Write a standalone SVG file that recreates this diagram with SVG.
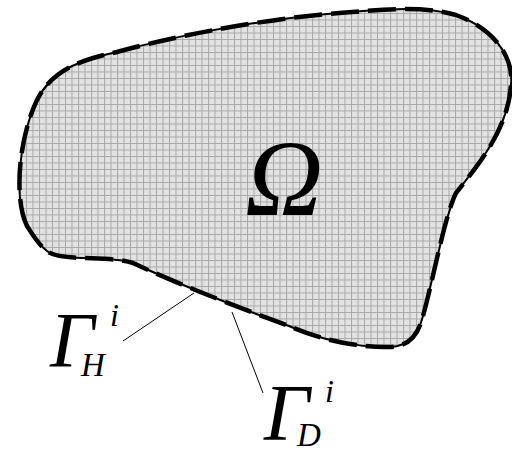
<svg xmlns="http://www.w3.org/2000/svg" width="512" height="452" viewBox="0 0 512 452">
<defs>
<pattern id="grid" width="6.5" height="6.5" patternUnits="userSpaceOnUse">
<rect width="6.5" height="6.5" fill="#e2e2e2"/>
<path d="M0,0.5 H6.5 M0.5,0 V6.5" stroke="#a8a8a8" stroke-width="1" fill="none"/>
</pattern>
<style>
.lbl{font-family:"Liberation Serif","Times New Roman",serif;font-style:italic;fill:#000}
.leader{stroke:#000;stroke-width:1;fill:none}
</style>
</defs>
<g id="domain">
<path d="M27,226 C14,200 18,140 37,100 C52,70 80,60 117,52 C160,40 250,20 339,13 C380,10 420,5 456,15 C492,28 514,55 511,85 C508,130 478,165 456,193 C445,215 433,280 423,316 C418,335 410,346 390,347 C360,348 320,340 289,326 C250,312 180,285 133,263 C110,255 60,262 47,251 C38,244 32,234 27,226 Z" fill="url(#grid)" stroke="#000" stroke-width="2"/>
<path d="M27,226 C14,200 18,140 37,100 C52,70 80,60 117,52 C160,40 250,20 339,13 C380,10 420,5 456,15 C492,28 514,55 511,85 C508,130 478,165 456,193 C445,215 433,280 423,316 C418,335 410,346 390,347 C360,348 320,340 289,326 C250,312 180,285 133,263 C110,255 60,262 47,251 C38,244 32,234 27,226 Z" fill="none" stroke="#000" stroke-width="4.5" stroke-dasharray="28 9"/>
<text class="lbl" x="245" y="215" font-size="108">Ω</text>
</g>
<g id="connectors">
<line class="leader" x1="194" y1="293" x2="123" y2="341"/>
<line class="leader" x1="232" y1="312" x2="263" y2="393"/>
</g>
<g id="gamma-h">
<text class="lbl" x="50" y="366" font-size="78">Γ</text>
<text class="lbl" x="110" y="326" font-size="32">i</text>
<text class="lbl" x="81" y="376" font-size="33">H</text>
</g>
<g id="gamma-d">
<text class="lbl" x="264" y="440" font-size="80">Γ</text>
<text class="lbl" x="325" y="402" font-size="32">i</text>
<text class="lbl" x="297" y="446" font-size="33">D</text>
</g>
</svg>
